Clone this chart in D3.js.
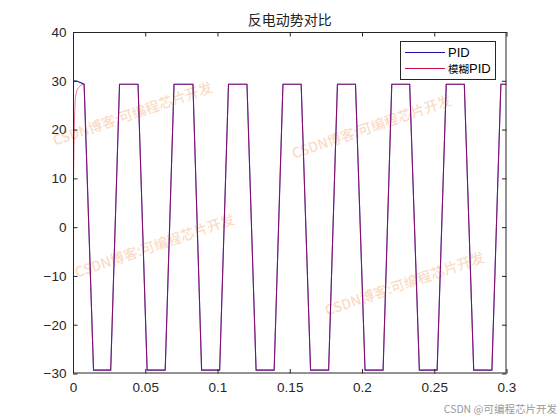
<!DOCTYPE html>
<html><head><meta charset="utf-8">
<script src="https://cdn.jsdelivr.net/npm/d3@7"></script>
<style>
html,body{margin:0;padding:0;background:#fff;}
svg{display:block;}
</style></head>
<body>
<svg id="chart" width="560" height="420"></svg>
<script>
// ---- data ----
const titleText = "反电动势对比";
const seriesNames = ["PID", "模糊PID"];
const xTicks = [0, 0.05, 0.1, 0.15, 0.2, 0.25, 0.3];
const yTicks = [-30, -20, -10, 0, 10, 20, 30, 40];
const xDomain = [0, 0.3];
const yDomain = [-30, 40];

const pidT = [0, 0.0002, 0.0030, 0.0077, 0.0142, 0.0261, 0.0322, 0.0450, 0.0513, 0.0638, 0.0699, 0.0830, 0.0890, 0.1015, 0.1076, 0.1204, 0.1267, 0.1392, 0.1453, 0.1579, 0.1644, 0.1769, 0.1830, 0.1955, 0.2021, 0.2146, 0.2206, 0.2330, 0.2397, 0.2520, 0.2583, 0.2708, 0.2773, 0.2899, 0.2961, 0.3];
const pidV = [0, 30.0, 29.9, 29.3, -29.3, -29.3, 29.3, 29.3, -29.3, -29.3, 29.3, 29.3, -29.3, -29.3, 29.3, 29.3, -29.3, -29.3, 29.3, 29.3, -29.3, -29.3, 29.3, 29.3, -29.3, -29.3, 29.3, 29.3, -29.3, -29.3, 29.3, 29.3, -29.3, -29.3, 29.3, 29.3];

const fuzzyT = [0, 0.0003, 0.0007, 0.0011, 0.0016, 0.0025, 0.0038, 0.0055, 0.0077, 0.0142, 0.0261, 0.0322, 0.0450, 0.0513, 0.0638, 0.0699, 0.0830, 0.0890, 0.1015, 0.1076, 0.1204, 0.1267, 0.1392, 0.1453, 0.1579, 0.1644, 0.1769, 0.1830, 0.1955, 0.2021, 0.2146, 0.2206, 0.2330, 0.2397, 0.2520, 0.2583, 0.2708, 0.2773, 0.2899, 0.2961, 0.3];
const fuzzyV = [0, 8.0, 17.0, 23.0, 26.5, 27.9, 28.6, 29.1, 29.3, -29.3, -29.3, 29.3, 29.3, -29.3, -29.3, 29.3, 29.3, -29.3, -29.3, 29.3, 29.3, -29.3, -29.3, 29.3, 29.3, -29.3, -29.3, 29.3, 29.3, -29.3, -29.3, 29.3, 29.3, -29.3, -29.3, 29.3, 29.3, -29.3, -29.3, 29.3, 29.3];

const watermarkText = "CSDN博客:可编程芯片开发";
const footerText = "CSDN @可编程芯片开发";

// ---- layout ----
const L = 73, R = 506.5, T = 32, B = 373.5;
const svg = d3.select("#chart");
const x = d3.scaleLinear().domain(xDomain).range([L, R]);
const y = d3.scaleLinear().domain(yDomain).range([B, T]);
const axisColor = "#262626";
const font = "'Liberation Sans', Arial, 'Noto Sans CJK SC', sans-serif";
const cjk = "'Noto Sans CJK SC', sans-serif";

svg.append("rect").attr("x",0).attr("y",0).attr("width",560).attr("height",420).attr("fill","#fff");

// watermarks
const wmPos = [[133, 115], [372, 128], [155, 247], [405, 285]];
const wm = svg.append("g");
wmPos.forEach(p => {
  wm.append("text")
    .attr("transform", `translate(${p[0]},${p[1]}) rotate(-19)`)
    .attr("text-anchor","middle")
    .attr("dominant-baseline","middle")
    .attr("font-family", cjk)
    .attr("font-size", 14)
    .attr("font-weight", 500)
    .attr("fill", "#f3a870")
    .attr("fill-opacity", 0.42)
    .text(watermarkText);
});

// lines
svg.append("clipPath").attr("id","clipP").append("rect")
  .attr("x", L).attr("y", T).attr("width", R-L).attr("height", B-T);
const line = d3.line().x(d => x(d[0])).y(d => y(d[1]));
const pidData = pidT.map((t,i) => [t, pidV[i]]);
const fuzzyData = fuzzyT.map((t,i) => [t, fuzzyV[i]]);
const lg = svg.append("g").attr("clip-path","url(#clipP)");
lg.append("path").datum(pidData).attr("d", line)
  .attr("fill","none").attr("stroke","#1a10a8").attr("stroke-width",1.1);
lg.append("path").datum(fuzzyData).attr("d", line)
  .attr("fill","none").attr("stroke","#e0103a").attr("stroke-width",1.0).attr("stroke-opacity",0.55);

// axes with inward ticks on all four sides
function styleAxis(g, labels) {
  g.select(".domain").remove();
  g.selectAll(".tick line").attr("stroke", axisColor);
  g.selectAll(".tick text").attr("fill", axisColor).attr("font-family", font).attr("font-size", 13.5);
  if (!labels) g.selectAll(".tick text").remove();
}
const gxB = svg.append("g").attr("transform",`translate(0,${B})`)
  .call(d3.axisBottom(x).tickValues(xTicks).tickSizeInner(-4.5).tickSizeOuter(0).tickPadding(12).tickFormat(d3.format("")));
styleAxis(gxB, true);
gxB.selectAll(".tick text").attr("dy","0.71em").attr("y", 8.5);
const gxT = svg.append("g").attr("transform",`translate(0,${T})`)
  .call(d3.axisTop(x).tickValues(xTicks).tickSizeInner(-4.5).tickSizeOuter(0));
styleAxis(gxT, false);
const gyL = svg.append("g").attr("transform",`translate(${L},0)`)
  .call(d3.axisLeft(y).tickValues(yTicks).tickSizeInner(-4.5).tickSizeOuter(0).tickPadding(6));
styleAxis(gyL, true);
gyL.selectAll(".tick text").attr("x", -6.5);
const gyR = svg.append("g").attr("transform",`translate(${R},0)`)
  .call(d3.axisRight(y).tickValues(yTicks).tickSizeInner(-4.5).tickSizeOuter(0));
styleAxis(gyR, false);

// box
svg.append("rect").attr("x", L+0.5).attr("y", T+0.5).attr("width", R-L-1).attr("height", B-T-1)
  .attr("fill","none").attr("stroke", axisColor).attr("stroke-width", 1);

// title
svg.append("text").attr("x", (L+R)/2).attr("y", 25)
  .attr("text-anchor","middle").attr("font-family", cjk)
  .attr("font-size", 14).attr("fill","#222").text(titleText);

// legend
const leg = svg.append("g");
leg.append("rect").attr("x", 400.5).attr("y", 41.5).attr("width", 95).attr("height", 38)
  .attr("fill","#fff").attr("stroke", axisColor).attr("stroke-width",1);
const legColors = ["#1a10a8", "#d01040"];
seriesNames.forEach((n,i) => {
  const ly = 52.5 + i*16;
  leg.append("line").attr("x1", 405).attr("x2", 445).attr("y1", ly).attr("y2", ly)
    .attr("stroke", legColors[i]).attr("stroke-width", 1.1);
  const t = leg.append("text").attr("x", 448).attr("y", ly + 4.8)
    .attr("font-family", font).attr("font-size", 13).attr("fill","#000");
  // split CJK part so it renders at the narrower size seen in the reference
  const m = n.match(/^([^\x00-\x7F]*)(.*)$/);
  if (m[1]) t.append("tspan").attr("font-family", cjk).attr("font-size", 10.5).text(m[1]);
  t.append("tspan").text(m[2]);
});

// footer
svg.append("text").attr("x", 557).attr("y", 413).attr("text-anchor","end")
  .attr("font-family", cjk).attr("font-size", 10.5)
  .attr("fill","#9a9a9a").text(footerText);
</script>
</body></html>
